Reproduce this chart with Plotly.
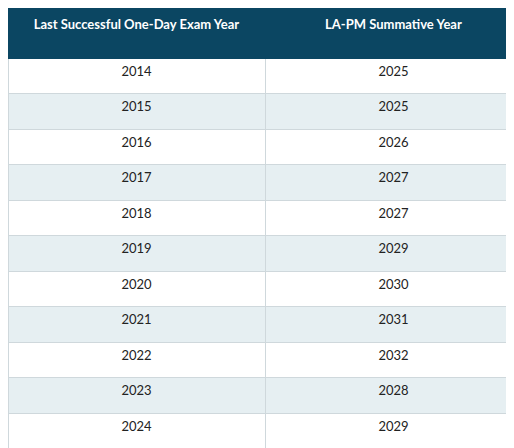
import plotly.graph_objects as go

headers = ["<b>Last Successful One-Day Exam Year</b>", "<b>LA-PM Summative Year</b>"]
exam_years = ["2014","2015","2016","2017","2018","2019","2020","2021","2022","2023","2024"]
summative_years = ["2025","2025","2026","2027","2027","2029","2030","2031","2032","2028","2029"]

fills = ["#ffffff" if i % 2 == 0 else "#e6eff2" for i in range(len(exam_years))]

fig = go.Figure(go.Table(
    columnwidth=[257, 257],
    header=dict(values=headers, fill_color="#0b4662", line_color="#0b4662",
                font=dict(color="white", size=13, family="Lato"), height=50, align="center"),
    cells=dict(values=[exam_years, summative_years], fill_color=[fills, fills],
               line_color="#cfd8dc", font=dict(color="#222222", size=13, family="Lato"),
               height=35.5, align="center"),
))
fig.update_layout(width=514, height=448, margin=dict(l=0, r=0, t=0, b=0), paper_bgcolor="white")
fig.write_html("out.html")
